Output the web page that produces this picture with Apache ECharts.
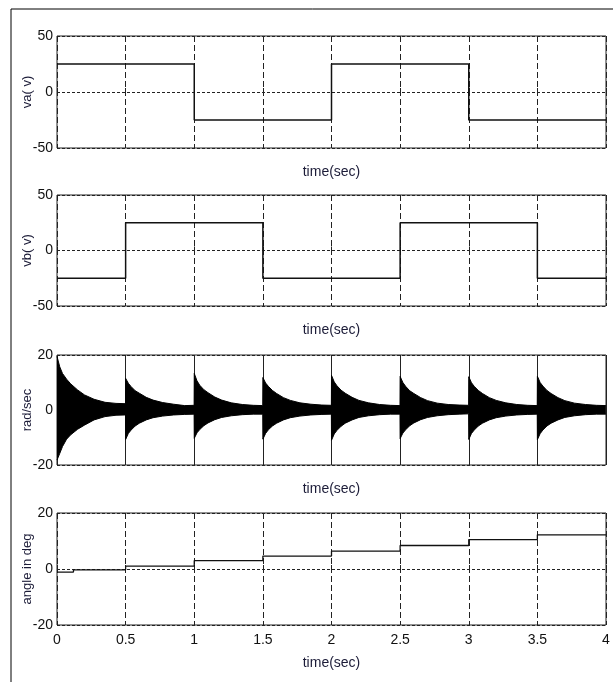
<!DOCTYPE html>
<html>
<head>
<meta charset="utf-8">
<script src="https://cdn.jsdelivr.net/npm/echarts@6/dist/echarts.min.js"></script>
<style>
  html, body { margin: 0; padding: 0; background: #fff; }
  #chart { width: 613px; height: 682px; }
</style>
</head>
<body>
<div id="chart"></div>
<script>
// time ticks (s)
const timeTicks = [0, 0.5, 1, 1.5, 2, 2.5, 3, 3.5, 4];

// va / vb square waves: switch times and level held from that time
const vaTimes = [0, 1, 2, 3, 4];
const vaLevels = [25, -25, 25, -25, -25];
const vbTimes = [0, 0.5, 1.5, 2.5, 3.5, 4];
const vbLevels = [-25, 25, -25, 25, -25, -25];

// rad/sec: envelope of the fast oscillation, one row per 0.5 s segment
const radSegStarts = [0, 0.5, 1, 1.5, 2, 2.5, 3, 3.5];
const radOffsets = [0, 0.02, 0.04, 0.07, 0.1, 0.15, 0.2, 0.27, 0.35, 0.43, 0.499];
const radUpper = [
  [19.5, 15.7, 13.3, 11.2, 9.5, 7.3, 5.5, 3.9, 2.8, 2.4, 2.3],
  [11.5, 9.7, 8.5, 7.0, 6.1, 4.6, 3.6, 2.7, 2.1, 1.6, 1.7],
  [13.3, 10.6, 9.0, 7.4, 6.3, 4.7, 3.6, 2.6, 2.0, 1.7, 1.6],
  [11.8, 9.8, 8.6, 7.1, 6.0, 4.5, 3.5, 2.6, 2.1, 1.8, 1.7],
  [12.6, 10.2, 8.8, 7.2, 6.1, 4.6, 3.5, 2.6, 2.0, 1.7, 1.6],
  [12.2, 10.0, 8.6, 7.0, 6.0, 4.5, 3.4, 2.5, 2.0, 1.8, 1.7],
  [12.1, 9.9, 8.6, 7.1, 6.0, 4.5, 3.5, 2.6, 2.0, 1.7, 1.6],
  [12.3, 10.0, 8.7, 7.1, 6.0, 4.5, 3.4, 2.5, 2.0, 1.7, 1.6]
];
const radLower = [
  [-18.2, -15.8, -13.3, -10.6, -9.0, -7.0, -5.5, -3.6, -2.4, -1.9, -1.8],
  [-10.7, -8.5, -7.3, -5.8, -4.8, -3.6, -2.8, -2.2, -1.8, -1.6, -1.5],
  [-10.3, -8.3, -7.1, -5.7, -4.7, -3.5, -2.7, -2.1, -1.7, -1.5, -1.5],
  [-10.6, -8.5, -7.2, -5.8, -4.8, -3.6, -2.8, -2.2, -1.8, -1.6, -1.5],
  [-11.0, -8.7, -7.4, -5.9, -4.8, -3.6, -2.7, -2.1, -1.7, -1.5, -1.5],
  [-10.4, -8.4, -7.2, -5.7, -4.7, -3.5, -2.7, -2.1, -1.7, -1.5, -1.4],
  [-10.7, -8.5, -7.3, -5.8, -4.8, -3.6, -2.8, -2.2, -1.8, -1.6, -1.5],
  [-10.8, -8.6, -7.3, -5.8, -4.8, -3.6, -2.7, -2.1, -1.7, -1.5, -1.5]
];

// angle in deg: step times and levels
const angleTimes = [0, 0.12, 0.5, 1, 1.5, 2, 2.5, 3, 3.5, 4];
const angleLevels = [-1.1, -0.3, 1.0, 3.0, 4.6, 6.4, 8.4, 10.5, 12.2, 12.2];

const yTicks = [[-50, 0, 50], [-50, 0, 50], [-20, 0, 20], [-20, 0, 20]];
const yNames = ['va( v)', 'vb( v)', 'rad/sec', 'angle in deg'];

const FONT = "'Liberation Sans', Arial, sans-serif";
const INK = '#111';
const LABEL_INK = '#1c1c38';

const grids = [
  { left: 57, right: 7, top: 36, height: 112 },
  { left: 57, right: 7, top: 195, height: 111 },
  { left: 57, right: 7, top: 355, height: 110 },
  { left: 57, right: 7, top: 513, height: 112 }
];

const zip = (xs, ys) => xs.map((x, i) => [x, ys[i]]);

const radUpperData = [];
const radLowerData = [];
radSegStarts.forEach((s, k) => {
  radOffsets.forEach((o, i) => {
    radUpperData.push([s + o, radUpper[k][i]]);
    radLowerData.push([s + o, radLower[k][i]]);
  });
});

const chart = echarts.init(document.getElementById('chart'));

const option = {
  animation: false,
  backgroundColor: '#fff',
  graphic: [
    {
      type: 'rect',
      shape: { x: 11, y: 9, width: 700, height: 720 },
      style: { fill: 'none', stroke: '#000', lineWidth: 1 },
      silent: true
    }
  ],
  grid: grids.map((g) => ({
    ...g,
    show: true,
    borderColor: '#222',
    borderWidth: 1,
    backgroundColor: '#fff'
  })),
  xAxis: grids.map((g, i) => ({
    type: 'value',
    gridIndex: i,
    min: 0,
    max: 4,
    interval: 0.5,
    name: 'time(sec)',
    nameLocation: 'middle',
    nameGap: i === 3 ? 31 : 17,
    nameMoveOverlap: false,
    nameTextStyle: { fontFamily: FONT, fontSize: 14, color: LABEL_INK },
    axisLine: { show: false },
    axisTick: { show: true, inside: true, length: 4, lineStyle: { color: '#222' } },
    axisLabel: {
      show: i === 3,
      fontFamily: FONT,
      fontSize: 14,
      color: INK,
      margin: 8
    },
    splitLine: {
      show: true,
      lineStyle: {
        color: '#222',
        width: 1,
        type: i === 2 ? 'solid' : [6, 3]
      }
    }
  })),
  yAxis: grids.map((g, i) => ({
    type: 'value',
    gridIndex: i,
    min: yTicks[i][0],
    max: yTicks[i][2],
    interval: yTicks[i][2],
    name: yNames[i],
    nameLocation: 'middle',
    nameGap: 23,
    nameRotate: 90,
    nameMoveOverlap: false,
    nameTextStyle: { fontFamily: FONT, fontSize: 13, color: LABEL_INK },
    axisLine: { show: false },
    axisTick: { show: false },
    axisLabel: { fontFamily: FONT, fontSize: 14, color: INK, margin: 4 },
    splitLine: {
      show: true,
      lineStyle: { color: '#222', width: 1, type: [3, 2] }
    }
  })),
  series: [
    {
      type: 'line',
      xAxisIndex: 0,
      yAxisIndex: 0,
      step: 'end',
      data: zip(vaTimes, vaLevels),
      symbol: 'none',
      lineStyle: { color: INK, width: 1.5 }
    },
    {
      type: 'line',
      xAxisIndex: 1,
      yAxisIndex: 1,
      step: 'end',
      data: zip(vbTimes, vbLevels),
      symbol: 'none',
      lineStyle: { color: INK, width: 1.5 }
    },
    {
      type: 'line',
      xAxisIndex: 2,
      yAxisIndex: 2,
      data: radUpperData,
      symbol: 'none',
      lineStyle: { color: '#000', width: 1 },
      areaStyle: { color: '#000', opacity: 1, origin: 0 }
    },
    {
      type: 'line',
      xAxisIndex: 2,
      yAxisIndex: 2,
      data: radLowerData,
      symbol: 'none',
      lineStyle: { color: '#000', width: 1 },
      areaStyle: { color: '#000', opacity: 1, origin: 0 }
    },
    {
      type: 'line',
      xAxisIndex: 3,
      yAxisIndex: 3,
      step: 'end',
      data: zip(angleTimes, angleLevels),
      symbol: 'none',
      lineStyle: { color: INK, width: 1.3 }
    }
  ]
};

chart.setOption(option);
</script>
</body>
</html>
